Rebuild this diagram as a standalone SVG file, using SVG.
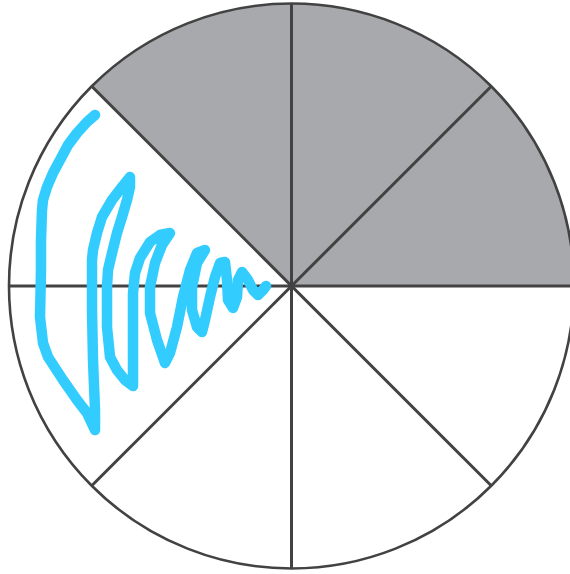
<svg xmlns="http://www.w3.org/2000/svg" width="570" height="574" viewBox="0 0 570 574">
<style>
.shade{fill:#a8a9ac;stroke:none}
.edge{fill:none;stroke:#424242;stroke-width:3}
.rim{fill:none;stroke:#424242;stroke-width:2.6}
.ink{fill:none;stroke:#33ccff;stroke-width:10.5;stroke-linecap:round;stroke-linejoin:round}
</style>
<rect width="570" height="574" fill="#ffffff"/>
<g id="shaded-sectors">
<path class="shade" d="M291.5,286 L91.7,86.2 A282.5,282.5 0 0 1 574,286 Z"/>
</g>
<g id="circle">
<circle class="rim" cx="291.5" cy="286" r="282.5"/>
</g>
<g id="dividers">
<line class="edge" x1="291.5" y1="3.5" x2="291.5" y2="568.5"/>
<line class="edge" x1="9" y1="286" x2="574" y2="286"/>
<line class="edge" x1="91.7" y1="86.2" x2="491.3" y2="485.8"/>
<line class="edge" x1="491.3" y1="86.2" x2="91.7" y2="485.8"/>
</g>
<g id="scribble">
<polyline class="ink" points="95,115 87,122 77,133 68,145 60,160 53,173 47,187 43,200 42,210 41,240 41,270 40,317 43,343 48,357 63,380 77,400 87,413 95,430 95,410 93,360 92,310 92,260 93,250 97,233 102,217 112,200 122,187 130,177 130,187 127,200 122,217 117,233 112,253 108,270 107,287 107,327 110,357 117,370 125,380 133,386 133,370 133,327 133,293 135,273 140,258 150,242 160,235 170,233 162,245 155,263 150,287 150,313 157,340 165,363 170,353 177,327 183,297 190,270 197,253 205,250 197,263 192,287 192,310 197,327 202,332 205,320 210,297 215,277 220,263 225,262 227,280 228,300 233,308 237,297 238,280 242,272 248,280 253,290 258,295 263,290 266,286"/>
</g>
</svg>
